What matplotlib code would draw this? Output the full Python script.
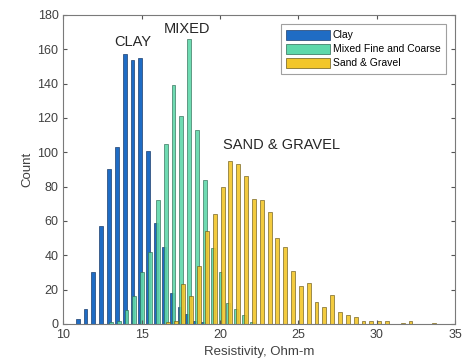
import numpy as np
import matplotlib
matplotlib.use('Agg')
import matplotlib.pyplot as plt

plt.rcParams['font.family'] = ['Liberation Sans', 'DejaVu Sans']

# bin centres (Ohm-m) and counts
clay_x = [11.0, 11.5, 12.0, 12.5, 13.0, 13.5, 14.0, 14.5, 15.0, 15.5, 16.0, 16.5, 17.0, 17.5, 18.0, 18.5, 19.0]
clay_n = [3, 9, 30, 57, 90, 103, 157, 154, 155, 101, 59, 45, 18, 10, 6, 2, 1]

mixed_x = [13.0, 13.5, 14.0, 14.5, 15.0, 15.5, 16.0, 16.5, 17.0, 17.5, 18.0, 18.5, 19.0, 19.5, 20.0, 20.5, 21.0, 21.5, 22.0]
mixed_n = [1, 2, 8, 16, 30, 42, 72, 105, 139, 121, 166, 113, 84, 44, 30, 12, 9, 5, 1]

sand_x = [16.5, 17.0, 17.5, 18.0, 18.5, 19.0, 19.5, 20.0, 20.5, 21.0, 21.5, 22.0, 22.5, 23.0, 23.5, 24.0, 24.5,
          25.0, 25.5, 26.0, 26.5, 27.0, 27.5, 28.0, 28.5, 29.0, 29.5, 30.0, 30.5, 31.0, 31.5, 32.0, 32.5, 33.0, 33.5]
sand_n = [1, 2, 23, 16, 34, 54, 64, 80, 95, 93, 86, 73, 72, 65, 50, 45, 31,
          22, 24, 13, 10, 17, 7, 5, 4, 2, 2, 2, 2, 0, 0.5, 2, 0, 0, 0.5]

labels = ['Clay', 'Mixed Fine and Coarse', 'Sand & Gravel']
colors = ['#1f6cc4', '#5fd8aa', '#f2c62a']

fig = plt.figure(figsize=(4.73, 3.64), dpi=100)
ax = fig.add_axes([0.134, 0.110, 0.828, 0.849])

w = 0.25
ax.bar(np.array(clay_x) - 0.09, clay_n, w, color=colors[0], edgecolor='#1d3f6e', linewidth=0.5, label=labels[0])
ax.bar(np.array(mixed_x) + 0.03, mixed_n, w, color=colors[1], edgecolor='#2f6b55', linewidth=0.5,
       alpha=0.9, label=labels[1])
ax.bar(np.array(sand_x) + 0.16, sand_n, w, color=colors[2], edgecolor='#6b5a1a', linewidth=0.5,
       alpha=0.9, label=labels[2])

ax.text(14.4, 164, 'CLAY', ha='center', va='center', fontsize=10.5, color='#262626')
ax.text(17.9, 172, 'MIXED', ha='center', va='center', fontsize=10.5, color='#262626')
ax.text(23.9, 104, 'SAND & GRAVEL', ha='center', va='center', fontsize=10.5, color='#262626')

ax.set_xlim(10, 35)
ax.set_ylim(0, 180)
ax.set_xticks(np.arange(10, 36, 5))
ax.set_yticks(np.arange(0, 181, 20))
ax.tick_params(direction='in', top=True, right=True, length=3, labelsize=9,
               colors='#555555', labelcolor='#404040')
for s in ax.spines.values():
    s.set_color('#7a7a7a')
    s.set_linewidth(0.8)

ax.set_xlabel('Resistivity, Ohm-m', fontsize=9.5, color='#404040', labelpad=4)
ax.set_ylabel('Count', fontsize=9.5, color='#404040', labelpad=3)

leg = ax.legend(loc='upper right', fontsize=7.5, frameon=True, fancybox=False,
                edgecolor='#888888', borderaxespad=0.9, handlelength=4.2, handleheight=1.1,
                labelspacing=0.35, borderpad=0.5, handletextpad=0.3)
for h in leg.legend_handles:
    h.set_alpha(1)
leg.get_frame().set_linewidth(0.8)

fig.savefig('out.png', dpi=100)
